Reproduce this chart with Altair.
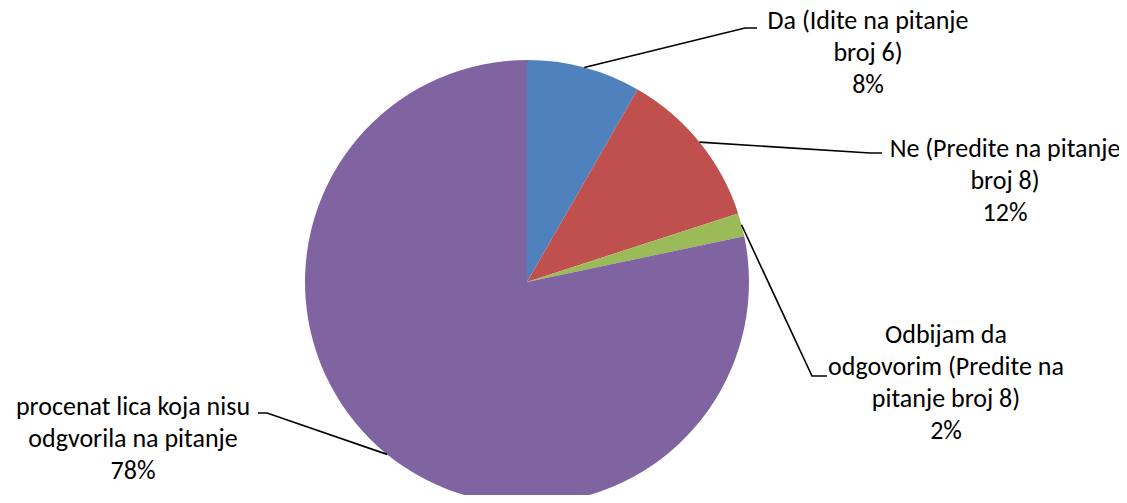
import math
import altair as alt
import pandas as pd

# ---- data ----
categories = [
    "Da (Idite na pitanje broj 6)",
    "Ne (Predite na pitanje broj 8)",
    "Odbijam da odgovorim (Predite na pitanje broj 8)",
    "procenat lica koja nisu odgvorila na pitanje",
]
values = [8.3, 11.7, 1.7, 78.3]
pct_labels = ["8%", "12%", "2%", "78%"]
label_lines = [
    ["Da (Idite na pitanje", "broj 6)"],
    ["Ne (Predite na pitanje", "broj 8)"],
    ["Odbijam da", "odgovorim (Predite na", "pitanje broj 8)"],
    ["procenat lica koja nisu", "odgvorila na pitanje"],
]
colors = ["#4F81BD", "#C0504D", "#9BBB59", "#8064A2"]

# ---- layout (pixels, chart coordinates) ----
W, H = 1111, 487
CX, CY, R = 519, 274, 222
label_anchor = [(860, 21), (997, 149), (938, 334.5), (125, 407)]   # centre x, first baseline
elbow = [(737, 20), (862, 145), (804, 368), (259, 405)]
elbow_end = [(749, 20), (874, 145), (819, 368), (250, 405)]
FONT = "Calibri, Carlito, Lato, sans-serif"

pie_df = pd.DataFrame({"cat": categories, "value": values, "idx": range(len(values))})

total = sum(values)
rows = []
cum = 0.0
for i, v in enumerate(values):
    a = 2 * math.pi * (cum + v / 2) / total
    cum += v
    ex, ey = CX + R * math.sin(a), CY - R * math.cos(a)
    pts = [(ex, ey), elbow[i], elbow_end[i]]
    for k, (px, py) in enumerate(pts):
        rows.append({"cat": categories[i], "k": k, "x": px, "y": py})
lead_df = pd.DataFrame(rows)

txt_df = pd.DataFrame({
    "cat": categories,
    "text": [label_lines[i] + [pct_labels[i]] for i in range(len(categories))],
    "x": [p[0] for p in label_anchor],
    "y": [p[1] for p in label_anchor],
})

pie = alt.Chart(pie_df).mark_arc(outerRadius=R).encode(
    theta=alt.Theta("value:Q", stack=True),
    order=alt.Order("idx:Q", sort="ascending"),
    color=alt.Color("cat:N", scale=alt.Scale(domain=categories, range=colors), legend=None),
    x=alt.value(CX),
    y=alt.value(CY),
)

leaders = alt.Chart(lead_df).mark_line(color="black", strokeWidth=1.6).encode(
    x=alt.X("x:Q", scale=None, axis=None),
    y=alt.Y("y:Q", scale=None, axis=None),
    detail="cat:N",
    order="k:Q",
)

texts = alt.Chart(txt_df).mark_text(
    align="center", baseline="alphabetic", font=FONT, fontSize=26,
    lineHeight=32, color="black",
).encode(
    x=alt.X("x:Q", scale=None, axis=None),
    y=alt.Y("y:Q", scale=None, axis=None),
    text="text",
)

chart = alt.layer(pie, leaders, texts).properties(
    width=W, height=H, autosize="none", padding=0, background="white"
).configure_view(stroke=None)

chart.save("out.html", embed_options={"renderer": "svg", "actions": False})
